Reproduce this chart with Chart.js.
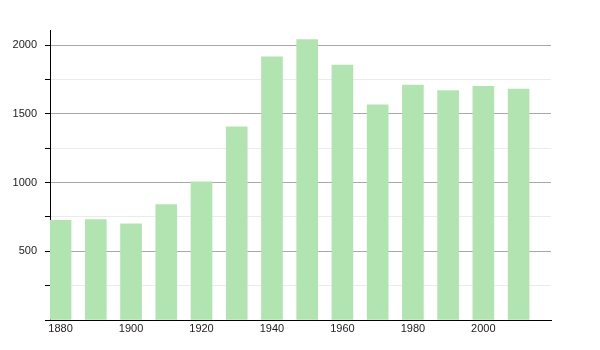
<!DOCTYPE html>
<html>
<head>
<meta charset="utf-8">
<script src="https://cdn.jsdelivr.net/npm/chart.js@4/dist/chart.umd.min.js"></script>
<style>
    html, body { margin: 0; padding: 0; background: #fff; }
    #wrap { width: 600px; height: 350px; }
</style>
</head>
<body>
<div id="wrap"><canvas id="popChart"></canvas></div>
<script>
// population by census year
const years = [1880, 1890, 1900, 1910, 1920, 1930, 1940, 1950, 1960, 1970, 1980, 1990, 2000, 2010];
const population = [725, 730, 700, 840, 1005, 1405, 1915, 2040, 1855, 1565, 1710, 1670, 1700, 1680];
const xTickLabels = [1880, 1900, 1920, 1940, 1960, 1980, 2000];
const yTicks = [0, 250, 500, 750, 1000, 1250, 1500, 1750, 2000];
const yTickLabels = [500, 1000, 1500, 2000];

document.addEventListener("DOMContentLoaded", () => {
    const ctx = document.getElementById("popChart").getContext("2d");
    new Chart(ctx, {
        type: "bar",
        data: {
            datasets: [
                {
                    data: years.map((y, i) => ({ x: y, y: population[i] })),
                    backgroundColor: "#b2e4b2",
                    borderWidth: 0,
                    barThickness: 21,
                },
            ],
        },
        options: {
            responsive: true,
            maintainAspectRatio: false,
            animation: false,
            layout: { padding: { top: 30, right: 49, left: 0, bottom: 0 } },
            plugins: {
                legend: { display: false },
                tooltip: { enabled: false },
            },
            scales: {
                x: {
                    type: "linear",
                    offset: false,
                    min: 1877,
                    max: 2019.2,
                    afterBuildTicks: (scale) => {
                        scale.ticks = xTickLabels.map((v) => ({ value: v }));
                    },
                    afterFit: (scale) => { scale.height = 30; },
                    grid: { display: false, drawTicks: false },
                    border: { color: "#000", width: 1 },
                    ticks: {
                        padding: 2,
                        color: "#222",
                        font: { family: "Liberation Sans", size: 11 },
                        callback: (v) => String(v),
                    },
                },
                y: {
                    min: 0,
                    max: 2110,
                    afterBuildTicks: (scale) => {
                        scale.ticks = yTicks.map((v) => ({ value: v }));
                    },
                    afterFit: (scale) => { scale.width = 50; },
                    grid: {
                        color: (c) => (c.tick && c.tick.value % 500 === 0 ? "#a8a8a8" : "#ebebeb"),
                        tickColor: "#000",
                        tickLength: 5,
                    },
                    border: { color: "#000", width: 1 },
                    ticks: {
                        padding: 8,
                        color: "#222",
                        font: { family: "Liberation Sans", size: 11 },
                        callback: (v) => (yTickLabels.includes(v) ? String(v) : ""),
                    },
                },
            },
        },
    });
});
</script>
</body>
</html>
